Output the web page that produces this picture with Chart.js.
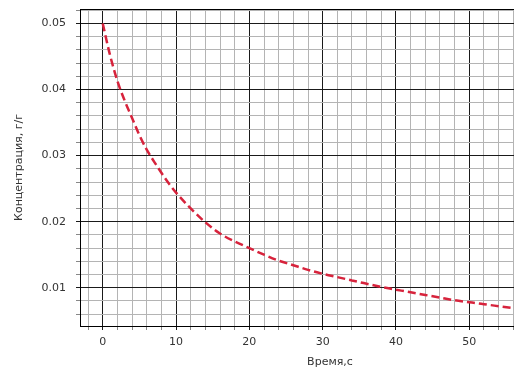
<!DOCTYPE html>
<html>
<head>
<meta charset="utf-8">
<script src="https://cdn.jsdelivr.net/npm/chart.js@4.4.0/dist/chart.umd.min.js"></script>
<style>
  html, body { margin: 0; padding: 0; background: #fff; width: 514px; height: 371px; overflow: hidden; }
  canvas { display: block; }
</style>
</head>
<body>
<canvas id="chart" width="600" height="371"></canvas>
<script>
// values (time, s -> concentration, g/g)
const times = [0, 1, 2, 3, 4, 5, 6, 7, 8, 9, 10, 12, 14, 16, 18, 20, 22, 24, 26, 28, 30,
  32, 34, 36, 38, 40, 42, 44, 46, 48, 50, 52, 54, 56, 58, 60, 62];
const conc = [0.0500, 0.0452, 0.0413, 0.0383, 0.0357, 0.0331, 0.0309, 0.0291, 0.0274, 0.0258, 0.0244,
  0.0220, 0.0199, 0.0182, 0.0170, 0.0160, 0.0150, 0.0141, 0.0134, 0.0127, 0.0121,
  0.0116, 0.0111, 0.0106, 0.0101, 0.0097, 0.0093, 0.0089, 0.0085, 0.0081, 0.0078,
  0.0075, 0.0072, 0.0069, 0.0066, 0.0064, 0.0062];

// tick labels
const xTickLabels = [0, 10, 20, 30, 40, 50, 60];
const yTickLabels = [0.01, 0.02, 0.03, 0.04, 0.05];

// minor grid steps (major lines are where the labels sit)
const xMinorStep = 2;
const yMinorStep = 0.002;

const X_MIN = -3.1, X_MAX = 65.1;
const Y_MIN = 0.0042, Y_MAX = 0.0522;

function stepsBetween(lo, hi, step){
  const out = [];
  for (let v = Math.ceil(lo / step) * step; v <= hi + 1e-9; v += step) out.push(+v.toFixed(6));
  return out;
}
function isMajor(v, list){ return list.some(m => Math.abs(m - v) < 1e-9); }

const font = { family: 'DejaVu Sans', size: 11 };
const textColor = '#333';

new Chart(document.getElementById('chart').getContext('2d'), {
  type: 'line',
  data: {
    datasets: [{
      data: times.map((t, i) => ({ x: t, y: conc[i] })),
      borderColor: 'rgb(215,35,60)',
      borderWidth: 2.5,
      borderDash: [8, 4],
      pointRadius: 0,
      fill: false,
      cubicInterpolationMode: 'monotone'
    }]
  },
  options: {
    responsive: false,
    devicePixelRatio: 1,
    animation: false,
    layout: { padding: { top: 0, left: 0, right: 20, bottom: 0 } },
    plugins: { legend: { display: false }, tooltip: { enabled: false } },
    scales: {
      x: {
        type: 'linear', position: 'bottom', min: X_MIN, max: X_MAX,
        afterBuildTicks: s => { s.ticks = stepsBetween(X_MIN, X_MAX, xMinorStep).map(v => ({ value: v })); },
        afterFit: s => { s.height = 45; s.paddingLeft = 0; s.paddingRight = 0; },
        ticks: {
          autoSkip: false, maxRotation: 0, padding: 6, font, color: textColor,
          callback: v => isMajor(v, xTickLabels) ? String(v) : ''
        },
        grid: {
          tickLength: 4,
          color: c => isMajor(c.tick.value, xTickLabels) ? '#1a1a1a' : '#b4b4b4',
          tickColor: c => isMajor(c.tick.value, xTickLabels) ? '#1a1a1a' : '#888',
          lineWidth: 1
        },
        border: { color: '#000', width: 1 },
        title: { display: true, text: 'Время,с', font, color: textColor, padding: { top: 0, bottom: 2 } }
      },
      xTop: {
        type: 'linear', position: 'top', min: X_MIN, max: X_MAX, display: true,
        afterFit: s => { s.height = 9; s.paddingLeft = 0; s.paddingRight = 0; },
        ticks: { display: false },
        grid: { display: false },
        border: { display: true, color: '#000', width: 1 }
      },
      y: {
        type: 'linear', position: 'left', min: Y_MIN, max: Y_MAX,
        afterBuildTicks: s => { s.ticks = stepsBetween(Y_MIN, Y_MAX, yMinorStep).map(v => ({ value: v })); },
        afterFit: s => { s.width = 80; s.paddingTop = 0; s.paddingBottom = 0; },
        ticks: {
          autoSkip: false, padding: 10, font, color: textColor,
          callback: v => isMajor(v, yTickLabels) ? v.toFixed(2) : ''
        },
        grid: {
          tickLength: 4,
          color: c => isMajor(c.tick.value, yTickLabels) ? '#1a1a1a' : '#b4b4b4',
          tickColor: c => isMajor(c.tick.value, yTickLabels) ? '#1a1a1a' : '#888',
          lineWidth: 1
        },
        border: { color: '#000', width: 1 },
        title: { display: true, text: 'Концентрация, г/г', font, color: textColor, padding: { top: 13, bottom: 0 } }
      }
    }
  }
});
</script>
</body>
</html>
